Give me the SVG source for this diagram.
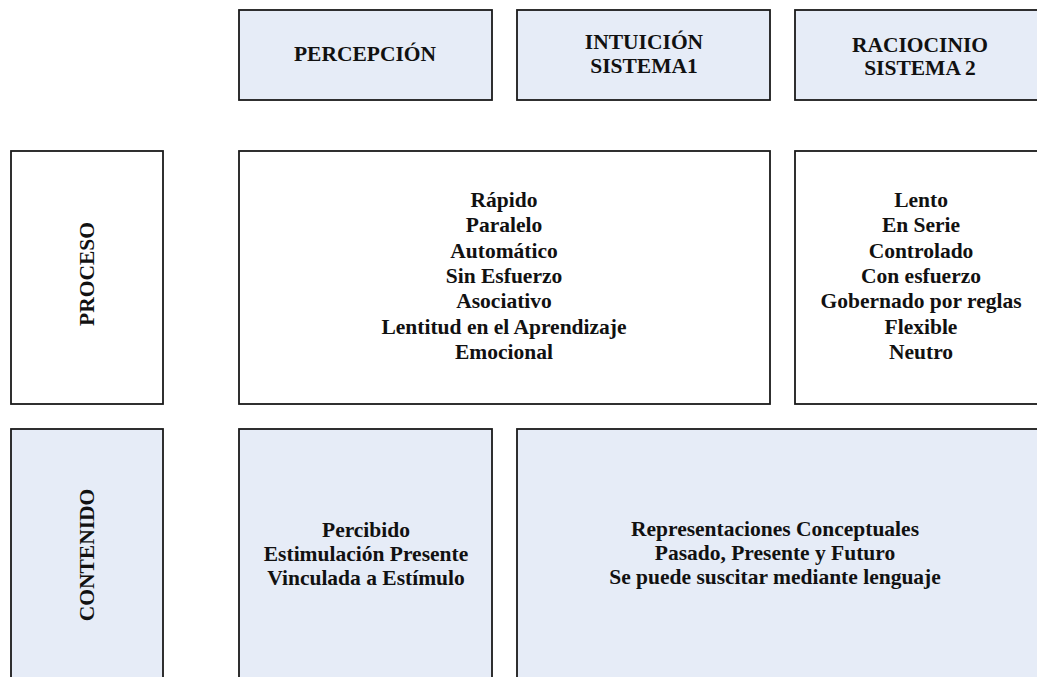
<svg xmlns="http://www.w3.org/2000/svg" width="1037" height="677" viewBox="0 0 1037 677">
<style>
.box{stroke:#1a1a1a;stroke-width:1.8}
.blue{fill:#E6ECF7}
.white{fill:#FFFFFF}
text{font-family:"Liberation Serif","Times New Roman",serif;font-weight:bold;font-size:21.5px;fill:#111;text-anchor:middle}
</style>
<rect width="1037" height="677" fill="#FFFFFF"/>
<g id="percepcion">
<rect class="box blue" x="239" y="10" width="253" height="90"/>
<text x="365" y="61">PERCEPCIÓN</text>
</g>
<g id="intuicion">
<rect class="box blue" x="517" y="10" width="253" height="90"/>
<text x="644" y="49">INTUICIÓN</text>
<text x="644" y="73">SISTEMA1</text>
</g>
<g id="raciocinio">
<rect class="box blue" x="795" y="10" width="260" height="90"/>
<text x="920" y="52">RACIOCINIO</text>
<text x="920" y="75">SISTEMA 2</text>
</g>
<g id="proceso">
<rect class="box white" x="11" y="151" width="152" height="253"/>
<text transform="translate(94,274) rotate(-90)" x="0" y="0">PROCESO</text>
</g>
<g id="sistema1-proceso">
<rect class="box white" x="239" y="151" width="531" height="253"/>
<text x="504" y="207">Rápido</text>
<text x="504" y="232.3">Paralelo</text>
<text x="504" y="257.6">Automático</text>
<text x="504" y="282.9">Sin Esfuerzo</text>
<text x="504" y="308.2">Asociativo</text>
<text x="504" y="333.5">Lentitud en el Aprendizaje</text>
<text x="504" y="358.8">Emocional</text>
</g>
<g id="sistema2-proceso">
<rect class="box white" x="795" y="151" width="260" height="253"/>
<text x="921" y="207">Lento</text>
<text x="921" y="232.3">En Serie</text>
<text x="921" y="257.6">Controlado</text>
<text x="921" y="282.9">Con esfuerzo</text>
<text x="921" y="308.2">Gobernado por reglas</text>
<text x="921" y="333.5">Flexible</text>
<text x="921" y="358.8">Neutro</text>
</g>
<g id="contenido">
<rect class="box blue" x="11" y="429" width="152" height="270"/>
<text transform="translate(94,555) rotate(-90)" x="0" y="0">CONTENIDO</text>
</g>
<g id="percepcion-contenido">
<rect class="box blue" x="239" y="429" width="253" height="270"/>
<text x="366" y="536.5">Percibido</text>
<text x="366" y="561">Estimulación Presente</text>
<text x="366" y="585">Vinculada a Estímulo</text>
</g>
<g id="conceptual-contenido">
<rect class="box blue" x="517" y="429" width="538" height="270"/>
<text x="775" y="536">Representaciones Conceptuales</text>
<text x="775" y="560">Pasado, Presente y Futuro</text>
<text x="775" y="584">Se puede suscitar mediante lenguaje</text>
</g>
<g id="connectors"></g>
</svg>
